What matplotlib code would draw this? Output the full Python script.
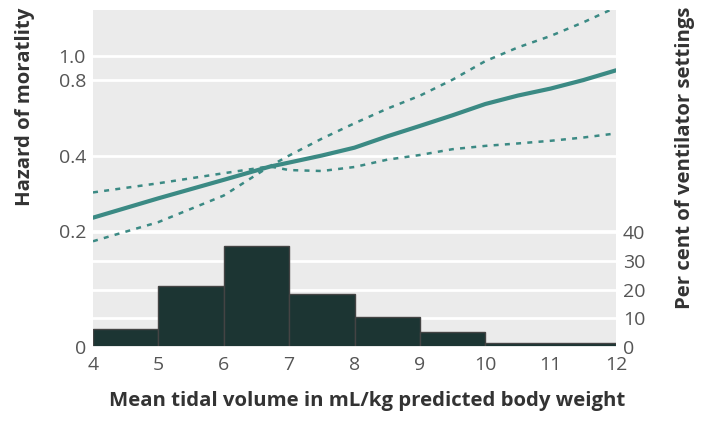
import numpy as np
import matplotlib.pyplot as plt
from matplotlib.ticker import FixedLocator, NullLocator

plt.rcParams['font.family'] = ['Open Sans', 'DejaVu Sans']

# histogram of ventilator settings (per cent)
bin_edges = [4, 5, 6, 7, 8, 9, 10, 12]
pct_settings = [6.2, 21.3, 35.2, 18.4, 10.6, 5.2, 1.4]

# hazard of mortality curve and confidence limits
tv = [4, 5, 6, 6.7, 7, 7.5, 8, 8.5, 9, 9.5, 10, 10.5, 11, 11.5, 12]
hazard = [0.226, 0.27, 0.32, 0.361, 0.375, 0.40, 0.43, 0.477, 0.525, 0.579,
          0.642, 0.694, 0.74, 0.80, 0.875]
ci_a = [0.285, 0.31, 0.34, 0.362, 0.35, 0.347, 0.36, 0.385, 0.402, 0.424,
        0.437, 0.447, 0.458, 0.472, 0.49]
ci_b = [0.182, 0.217, 0.277, 0.362, 0.40, 0.467, 0.538, 0.615, 0.693, 0.803,
        0.952, 1.08, 1.20, 1.36, 1.56]

haz_ticks = [0.0687, 0.2, 0.4, 0.8, 1.0]
haz_labels = ['0', '0.2', '0.4', '0.8', '1.0']
pct_ticks = [0, 10, 20, 30, 40]

teal = '#3b8a84'
bar_col = '#1c3533'
txt = '#555555'
lab = '#333333'

fig = plt.figure(figsize=(7.05, 4.21), dpi=100)
ax = fig.add_axes([93/705, 1 - 347.3/421, (616-93)/705, (347.3-9.5)/421])
ax.set_facecolor('#ebebeb')
axh = ax.twinx()

# bars on the bottom axes, per cent scale on the right
ax.bar(bin_edges[:-1], pct_settings, width=np.diff(bin_edges), align='edge',
       color=bar_col, edgecolor='#444444', linewidth=1, zorder=2)
ax.set_xlim(4, 12)
ax.set_ylim(0, 116.9)
ax.yaxis.tick_right()
ax.yaxis.set_label_position('right')
ax.set_yticks(pct_ticks)
ax.set_xticks(range(4, 13))
ax.grid(axis='y', color='white', linewidth=2)
ax.set_axisbelow(True)
ax.tick_params(axis='both', length=0, labelsize=14, labelcolor=txt)
ax.tick_params(axis='x', pad=6)
ax.tick_params(axis='y', pad=5)
ax.set_ylabel('Per cent of ventilator settings', fontsize=14.7, fontweight='bold',
              color=lab)
ax.yaxis.set_label_coords(1.113, 0.56)
ax.set_xlabel('Mean tidal volume in mL/kg predicted body weight', fontsize=14.7,
              fontweight='bold', color=lab)
ax.xaxis.set_label_coords(0.524, -0.13)
for s in ax.spines.values():
    s.set_visible(False)

# hazard curve on a log axis on top, scale on the left
axh.set_zorder(ax.get_zorder() + 1)
axh.patch.set_visible(False)
axh.yaxis.tick_left()
axh.yaxis.set_label_position('left')
axh.set_yscale('log')
axh.set_ylim(0.0687, 1.53)
axh.yaxis.set_major_locator(FixedLocator(haz_ticks))
axh.yaxis.set_minor_locator(NullLocator())
axh.set_yticklabels(haz_labels)
axh.grid(axis='y', color='white', linewidth=2)
axh.set_axisbelow(True)
axh.tick_params(axis='y', length=0, labelsize=14, labelcolor=txt, pad=5)
axh.set_ylabel('Hazard of moratlity', fontsize=14.7, fontweight='bold', color=lab)
axh.yaxis.set_label_coords(-0.111, 0.711)
for s in axh.spines.values():
    s.set_visible(False)

axh.plot(tv, hazard, color=teal, linewidth=3, solid_capstyle='round')
axh.plot(tv, ci_a, color=teal, linewidth=1.8, linestyle=(0, (2, 2.5)))
axh.plot(tv, ci_b, color=teal, linewidth=1.8, linestyle=(0, (2, 2.5)))

fig.savefig('out.png', dpi=100)
